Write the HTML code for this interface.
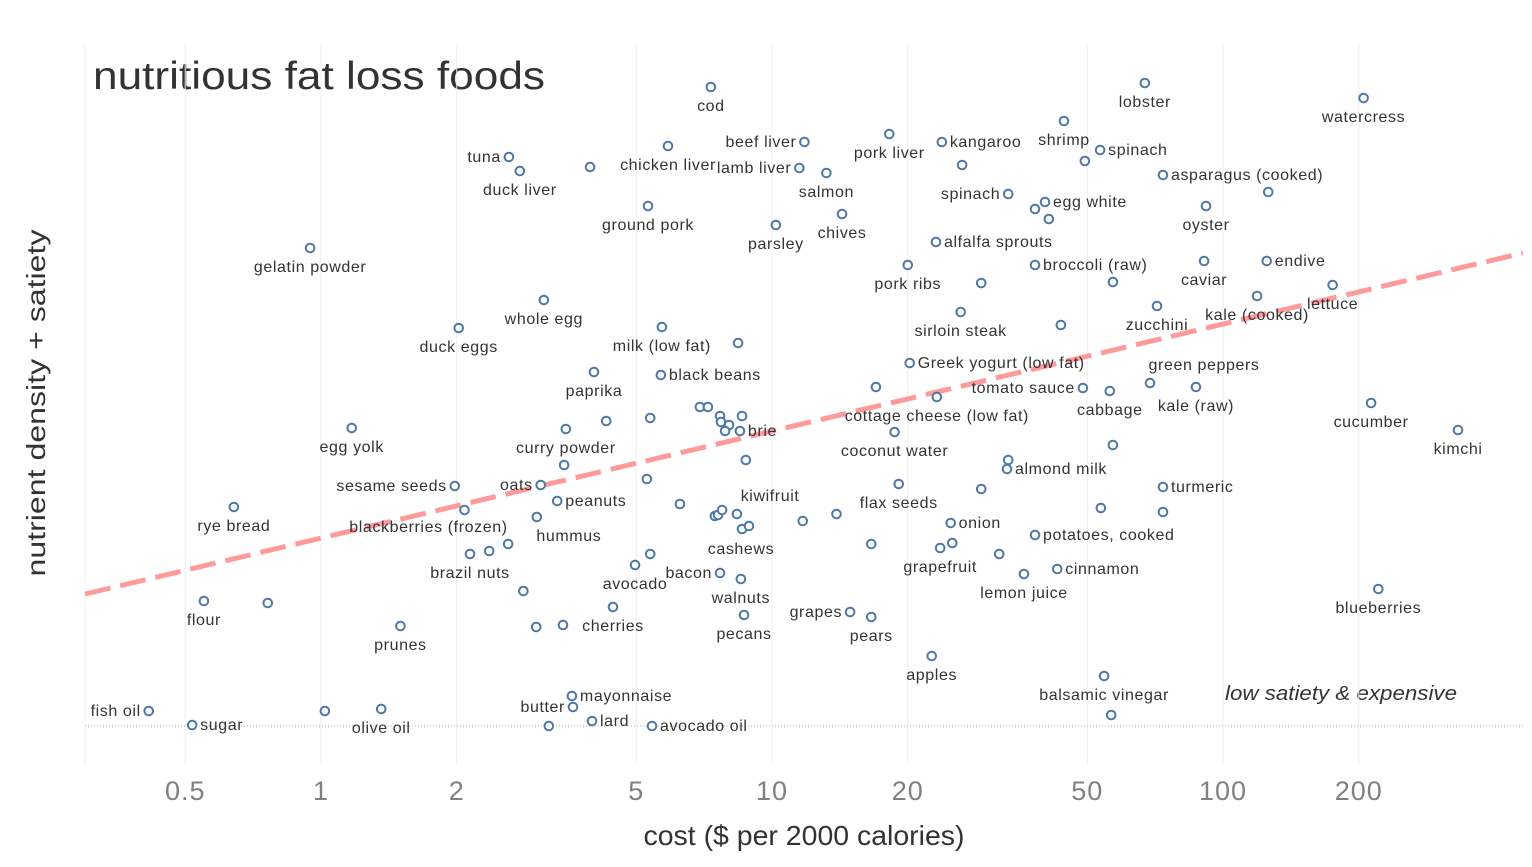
<!DOCTYPE html>
<html><head><meta charset="utf-8">
<style>
html,body{margin:0;padding:0;background:#fff;}
svg{display:block;font-family:"Liberation Sans","DejaVu Sans",sans-serif;}
</style></head>
<body>
<svg id="chart" width="1532" height="867" viewBox="0 0 1532 867" xmlns="http://www.w3.org/2000/svg">
  <text x="93" y="89" font-size="39" fill="#333" textLength="452" lengthAdjust="spacingAndGlyphs">nutritious fat loss foods</text>
  <text transform="translate(45,403) rotate(-90)" text-anchor="middle" font-size="26" fill="#333" textLength="347" lengthAdjust="spacingAndGlyphs">nutrient density + satiety</text>
  <text x="804" y="845" text-anchor="middle" font-size="28" fill="#333" textLength="321" lengthAdjust="spacingAndGlyphs">cost ($ per 2000 calories)</text>
  <text x="1341" y="700" text-anchor="middle" font-size="20" font-style="italic" fill="#333" textLength="232" lengthAdjust="spacingAndGlyphs">low satiety &amp; expensive</text>
  <g id="grid"></g><g id="ticks"></g><g id="trend"></g><g id="pts"></g><g id="labels"></g>
</svg>
<script>
const tickValues = [0.5, 1, 2, 5, 10, 20, 50, 100, 200];
const tickLabels = ["0.5", "1", "2", "5", "10", "20", "50", "100", "200"];
const trendCost = [0.3, 462];
const trendScore = [13.2, 47.3];
const foods = ["cod","lobster","watercress","shrimp","beef liver","tuna","duck liver","","chicken liver","lamb liver","salmon","pork liver","kangaroo","","spinach","","asparagus (cooked)","","spinach","egg white","","","oyster","ground pork","parsley","chives","alfalfa sprouts","gelatin powder","pork ribs","broccoli (raw)","","caviar","endive","","lettuce","kale (cooked)","zucchini","whole egg","sirloin steak","","duck eggs","milk (low fat)","","Greek yogurt (low fat)","paprika","black beans","","tomato sauce","cabbage","green peppers","kale (raw)","cottage cheese (low fat)","cucumber","kimchi","egg yolk","curry powder","","","","","","","","","","brie","coconut water","","","","almond milk","","sesame seeds","oats","peanuts","","","turmeric","flax seeds","rye bread","blackberries (frozen)","hummus","","","","kiwifruit","","","cashews","","","onion","","","potatoes, cooked","brazil nuts","","","avocado","","","grapefruit","","","cinnamon","bacon","walnuts","lemon juice","","blueberries","flour","","cherries","grapes","pears","pecans","prunes","","","apples","balsamic vinegar","mayonnaise","butter","fish oil","","olive oil","sugar","lard","","avocado oil",""];
const costs = [7.32,67.1,205,44.4,11.8,2.61,2.76,3.95,5.88,11.5,13.2,18.2,23.8,26.4,53.4,49.4,73.6,126,33.4,40.3,38.3,41.1,91.7,5.31,10.2,14.3,23.1,0.946,20.0,38.3,29.1,90.8,125,57.0,175,119,71.4,3.12,26.2,43.7,2.02,5.70,8.41,20.2,4.03,5.67,17.0,48.9,56.1,68.9,87.1,23.2,213,332,1.17,3.49,4.29,5.37,6.92,7.21,7.67,7.71,8.03,7.87,8.58,8.49,18.7,57.0,8.75,33.4,33.2,3.46,1.98,3.07,3.34,5.28,29.1,73.6,19.1,0.641,2.08,3.01,6.25,7.47,7.59,7.75,8.36,8.58,8.89,11.7,13.9,24.9,53.6,73.6,38.3,2.14,2.36,2.60,4.97,5.37,16.6,23.6,25.1,31.9,42.9,7.67,8.53,36.2,2.81,221,0.55,0.762,4.44,14.9,16.6,8.67,1.50,3.00,3.44,22.6,54.5,3.60,3.62,0.415,1.02,1.36,0.518,3.99,3.20,5.42,56.5];
const scores = [63.9,64.3,62.8,60.5,58.4,56.9,55.5,55.9,58.0,55.8,55.3,59.2,58.4,56.1,57.6,56.5,55.1,53.4,53.2,52.4,51.7,50.7,52.0,52.0,50.1,51.2,48.4,47.8,46.1,46.1,44.3,46.5,46.5,44.4,44.1,43.0,42.0,42.6,41.4,40.1,39.8,39.9,38.3,36.3,35.4,35.1,33.9,33.8,33.5,34.3,33.9,32.9,32.3,29.6,29.8,29.7,30.5,30.8,31.9,31.9,31.0,30.4,30.1,29.5,31.0,29.5,29.4,28.1,26.6,26.6,25.7,26.1,24.0,24.1,22.5,24.7,23.7,23.9,24.2,21.9,21.6,20.9,22.2,21.0,21.1,21.6,21.2,19.7,20.0,20.5,21.2,20.3,21.8,21.4,19.1,17.2,17.5,18.2,16.1,17.2,18.2,17.8,18.3,17.2,15.7,15.3,14.7,15.2,13.5,13.7,12.5,12.3,11.9,11.4,10.9,11.1,10.0,9.9,10.1,7.0,5.0,3.0,1.9,1.5,1.5,1.7,0.1,0.5,0.0,0.0,1.1];
const labelPos = ["b","b","b","b","l","l","b","","b","l","b","b","r","","r","","r","","l","r","","","b","b","b","b","r","b","b","r","","b","r","","b","b","b","b","b","","b","b","","r","b","r","","l","b","gp","b","b","b","b","b","b","","","","","","","","","","r","b","","","","r","","l","l","r","","","r","b","b","bb","hu","","","","kw","","","cw","","","r","","","r","b","","","b","","","b","","","r","l","b","b","","b","b","","b","l","b","b","b","","","b","b","r","l","l","","b","r","r","","r",""];

const NS = "http://www.w3.org/2000/svg";
const X0 = 321, DEC = 451, Y0 = 726, YU = 10;
function xScale(v){ return X0 + DEC*Math.log10(v); }
function yScale(s){ return Y0 - s*YU; }
function mk(tag, attrs, parent){ const e=document.createElementNS(NS,tag); for(const k in attrs) e.setAttribute(k,attrs[k]); parent.appendChild(e); return e; }

const grid = document.getElementById('grid');
const ticks = document.getElementById('ticks');
const edgeL = mk('line',{x1:85,x2:85,y1:45,y2:765,stroke:'#f0f0f0','stroke-width':1},grid);


tickValues.forEach((v,i)=>{
  const x = xScale(v);
  const g = mk('line',{x1:x,x2:x,y1:45,y2:765,stroke:'#ececec','stroke-width':1},grid);
  
  
  const t = mk('text',{x:x,y:800,'text-anchor':'middle','font-size':27,fill:'#808080','letter-spacing':'1'},ticks);
  t.textContent = tickLabels[i];
  
  
});
const base = mk('line',{x1:85,x2:1523,y1:yScale(0),y2:yScale(0),stroke:'#aaa','stroke-width':1,'stroke-dasharray':'1,2'},grid);



const tl = mk('line',{x1:xScale(trendCost[0]),y1:yScale(trendScore[0]),x2:xScale(trendCost[1]),y2:yScale(trendScore[1]),stroke:'#ff9a9a','stroke-width':5,'stroke-dasharray':'26,10'},document.getElementById('trend'));



const pts = document.getElementById('pts');
const labs = document.getElementById('labels');
const custom = {gp:[54,-13,'middle'],bb:[-36,22,'middle'],hu:[32,24,'middle'],kw:[48,-9,'middle'],cw:[-8,28,'middle']};
costs.forEach((c,i)=>{
  const x = xScale(c), y = yScale(scores[i]);
  const p = mk('circle',{cx:x,cy:y,r:4.3,fill:'#fff',stroke:'#4e79a7','stroke-width':2},pts);
  
  
  if(!foods[i]) return;
  const pos = labelPos[i];
  let dx=0, dy=24, anchor='middle';
  if(pos==='r'){dx=8;dy=5;anchor='start';}
  else if(pos==='l'){dx=-8;dy=5;anchor='end';}
  else if(custom[pos]){[dx,dy,anchor]=custom[pos];}
  const t = mk('text',{x:x+dx,y:y+dy,'text-anchor':anchor,'font-size':16,'letter-spacing':'0.6',fill:'#333'},labs);
  t.textContent = foods[i];
  
  
});
</script>
</body></html>
